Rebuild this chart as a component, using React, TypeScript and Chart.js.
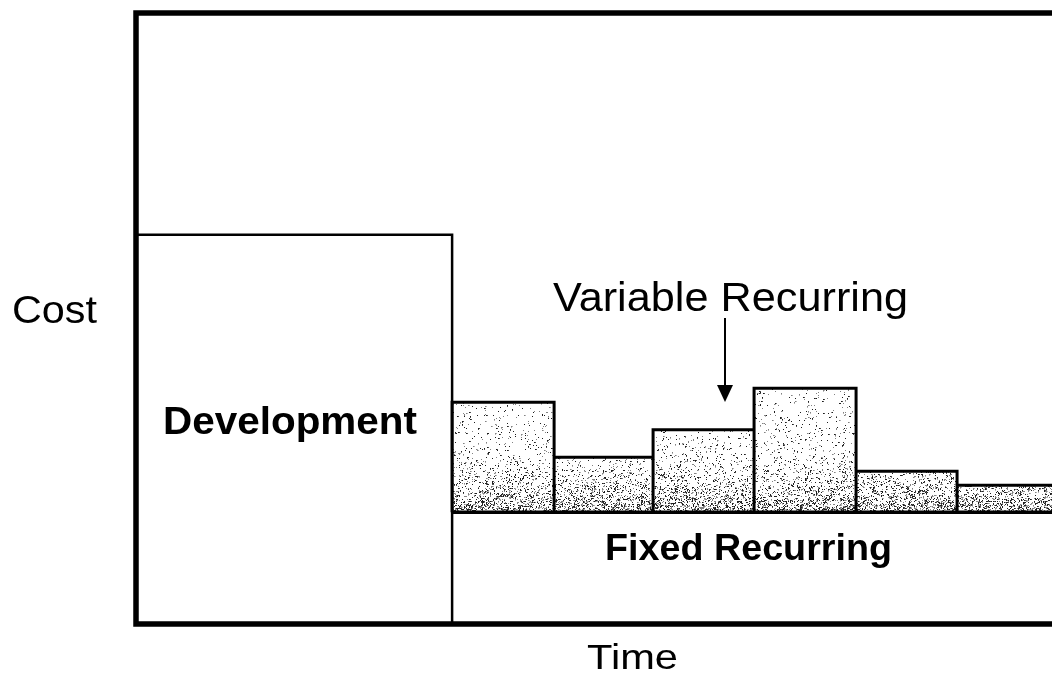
import React, { useEffect, useRef } from 'react';
import { Chart, registerables } from 'chart.js';

Chart.register(...registerables);

// ---- data (x in periods, y in cost units) ----
const X_MAX = 9.07;
const Y_MAX = 100;
const developmentEnd = 3.13;
const developmentCost = 63.7;
const fixedRecurringCost = 18.3;
const periodEdges = [3.13, 4.14, 5.12, 6.12, 7.13, 8.13, 9.13];
const variableRecurringTops = [36.3, 27.3, 31.8, 38.6, 25.0, 22.7];

const yAxisTitle = 'Cost';
const xAxisTitle = 'Time';
const developmentLabel = 'Development';
const variableLabel = 'Variable Recurring';
const fixedLabel = 'Fixed Recurring';

// ---- style ----
const W = 1052;
const H = 677;
const FONT = '"Liberation Sans", Arial, Helvetica, sans-serif';

type Label = { text: string; left: number; baseline: number; width: number; font: string };
const labels: Label[] = [
  { text: yAxisTitle, left: 12, baseline: 323, width: 85, font: `39px ${FONT}` },
  { text: developmentLabel, left: 163, baseline: 434, width: 254, font: `bold 39px ${FONT}` },
  { text: variableLabel, left: 553, baseline: 311, width: 355, font: `40px ${FONT}` },
  { text: fixedLabel, left: 605, baseline: 560, width: 287, font: `bold 36px ${FONT}` },
  { text: xAxisTitle, left: 587, baseline: 669, width: 91, font: `35px ${FONT}` },
];

function hash(x: number, y: number, s: number): number {
  let n = Math.imul(x, 374761393) + Math.imul(y, 668265263) + Math.imul(s, 144665);
  n = Math.imul(n ^ (n >>> 13), 1274126177);
  n = n ^ (n >>> 16);
  return (n >>> 0) / 4294967296;
}

let patternCache: { key: string; pattern: CanvasPattern | string } | null = null;
function stipple(chart: any): CanvasPattern | string {
  const y = chart.scales && chart.scales.y;
  if (!y) return '#ccc';
  const base = Math.round(y.getPixelForValue(fixedRecurringCost));
  const key = `${chart.width}x${chart.height}@${base}`;
  if (patternCache && patternCache.key === key) return patternCache.pattern;
  const w = chart.width;
  const h = chart.height;
  const c = document.createElement('canvas');
  c.width = w;
  c.height = h;
  const g = c.getContext('2d')!;
  const img = g.createImageData(w, h);
  const d = img.data;
  for (let i = 0; i < d.length; i++) d[i] = 255;
  const setPx = (px: number, py: number, v: number) => {
    if (px < 0 || py < 0 || px >= w || py >= h) return;
    const i = (py * w + px) * 4;
    if (d[i] > v) {
      d[i] = v;
      d[i + 1] = v;
      d[i + 2] = v;
    }
  };
  for (let py = 0; py < h; py++) {
    const dist = base - py;
    if (dist < 0 || dist > 260) continue;
    const p = 0.03 + 0.38 * Math.exp(-dist / 24);
    for (let px = 0; px < w; px++) {
      if (hash(px, py, 1) < p) {
        const v = hash(px, py, 2) < 0.55 ? 30 : 130;
        setPx(px, py, v);
        if (hash(px, py, 3) < 0.2) setPx(px + 1, py, v + 50);
        if (hash(px, py, 4) < 0.15) setPx(px, py + 1, v + 50);
      }
    }
  }
  g.putImageData(img, 0, 0);
  const pattern = g.createPattern(c, 'no-repeat') || '#ccc';
  patternCache = { key, pattern };
  return pattern;
}

const annotationPlugin = {
  id: 'annotations',
  afterDatasetsDraw(chart: any) {
    const { ctx, chartArea } = chart;
    ctx.save();
    // frame (top, left, bottom)
    ctx.strokeStyle = '#000';
    ctx.lineWidth = 5.5;
    ctx.lineJoin = 'miter';
    ctx.beginPath();
    ctx.moveTo(W, chartArea.top);
    ctx.lineTo(chartArea.left, chartArea.top);
    ctx.lineTo(chartArea.left, chartArea.bottom);
    ctx.lineTo(W, chartArea.bottom);
    ctx.stroke();

    // arrow
    ctx.lineWidth = 2;
    ctx.beginPath();
    ctx.moveTo(725, 318);
    ctx.lineTo(725, 388);
    ctx.stroke();
    ctx.fillStyle = '#000';
    ctx.beginPath();
    ctx.moveTo(717, 385);
    ctx.lineTo(733, 385);
    ctx.lineTo(725, 402);
    ctx.closePath();
    ctx.fill();

    // labels
    ctx.textBaseline = 'alphabetic';
    ctx.textAlign = 'left';
    for (const l of labels) {
      ctx.save();
      ctx.font = l.font;
      const m = ctx.measureText(l.text).width;
      ctx.translate(l.left, l.baseline);
      ctx.scale(l.width / m, 1);
      ctx.fillText(l.text, 0, 0);
      ctx.restore();
    }
    ctx.restore();
  },
};

export default function App() {
  const ref = useRef<HTMLCanvasElement | null>(null);

  useEffect(() => {
    document.body.style.margin = '0';
    const canvas = ref.current;
    if (!canvas) return;

    const developmentPoints = [
      { x: 0, y: 0 },
      { x: 0, y: developmentCost },
      { x: developmentEnd, y: developmentCost },
      { x: developmentEnd, y: 0 },
    ];
    const fixedPoints = [
      { x: developmentEnd, y: fixedRecurringCost },
      { x: periodEdges[periodEdges.length - 1], y: fixedRecurringCost },
    ];
    const variablePoints: { x: number; y: number }[] = [];
    variableRecurringTops.forEach((top, i) => {
      variablePoints.push({ x: periodEdges[i], y: fixedRecurringCost });
      variablePoints.push({ x: periodEdges[i], y: top });
      variablePoints.push({ x: periodEdges[i + 1], y: top });
      variablePoints.push({ x: periodEdges[i + 1], y: fixedRecurringCost });
    });

    const common = {
      pointRadius: 0,
      pointHoverRadius: 0,
      tension: 0,
      borderColor: '#000',
      borderJoinStyle: 'miter' as const,
      borderCapStyle: 'butt' as const,
    };

    const chart = new Chart(canvas, {
      type: 'line',
      data: {
        datasets: [
          { ...common, label: 'Fixed Recurring', data: fixedPoints, borderWidth: 3.5, fill: false },
          { ...common, label: 'Development', data: developmentPoints, borderWidth: 2.5, fill: false },
          {
            ...common,
            label: 'Variable Recurring',
            data: variablePoints,
            borderWidth: 3,
            fill: { value: fixedRecurringCost },
            backgroundColor: (c: any) => stipple(c.chart),
          },
        ],
      },
      options: {
        responsive: false,
        animation: false,
        events: [],
        layout: { padding: { left: 136, right: 0, top: 13, bottom: H - 624 } },
        scales: {
          x: { type: 'linear', min: 0, max: X_MAX, display: false },
          y: { type: 'linear', min: 0, max: Y_MAX, display: false },
        },
        plugins: {
          legend: { display: false },
          tooltip: { enabled: false },
          title: { display: false },
        },
      },
      plugins: [annotationPlugin],
    });

    return () => chart.destroy();
  }, []);

  return <canvas ref={ref} width={W} height={H} style={{ display: 'block' }} />;
}
